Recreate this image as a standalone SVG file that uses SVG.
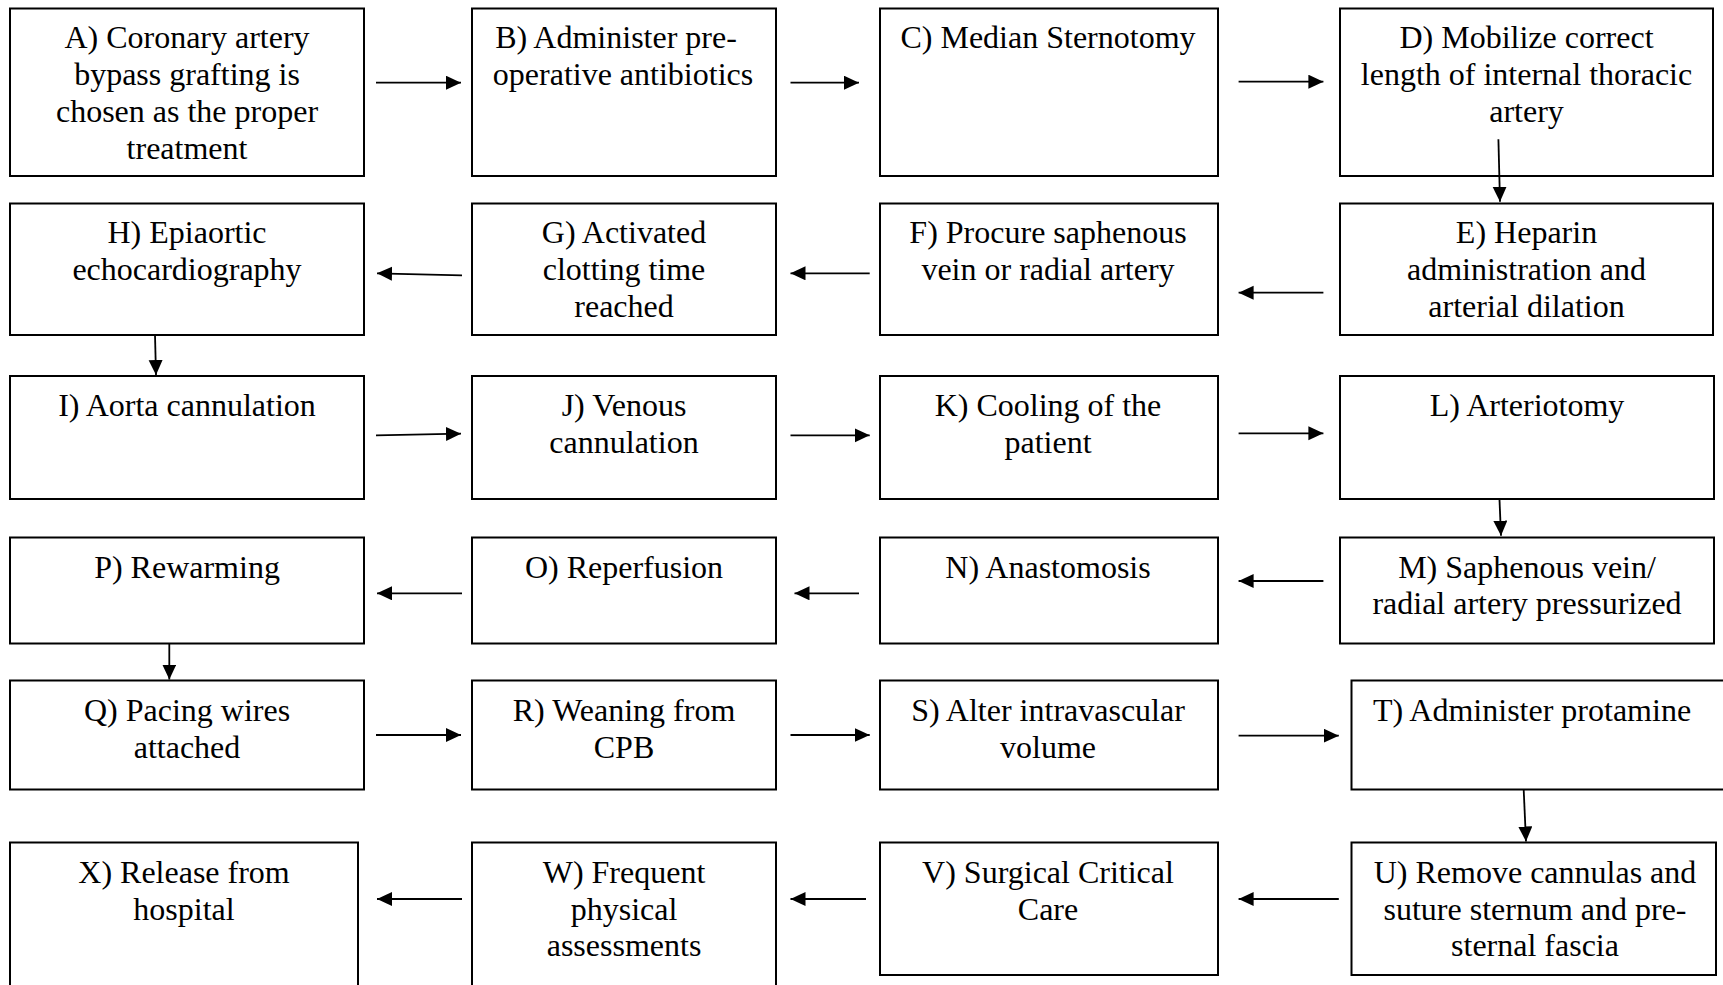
<svg xmlns="http://www.w3.org/2000/svg" width="1723" height="985" viewBox="0 0 1723 985">
<style>
.box{fill:#fff;stroke:#000;stroke-width:2}
.t{font-family:"Liberation Serif","Times New Roman",serif;font-size:32px;fill:#000;text-anchor:middle}
.c{stroke:#000;stroke-width:1.8;fill:none;marker-end:url(#ah)}
</style>
<defs>
<marker id="ah" markerUnits="userSpaceOnUse" markerWidth="16" markerHeight="15" refX="15" refY="7" orient="auto">
<path d="M0,0 L15,7 L0,14 z" fill="#000"/>
</marker>
</defs>
<rect width="1723" height="985" fill="#fff"/>
<g id="nodeA"><rect class="box" x="10" y="8.5" width="354" height="167.5"/><text class="t" x="187" y="48.3">A) Coronary artery<tspan x="187" dy="36.8">bypass grafting is</tspan><tspan x="187" dy="36.8">chosen as the proper</tspan><tspan x="187" dy="36.8">treatment</tspan></text></g>
<g id="nodeB"><rect class="box" x="472" y="8.5" width="304" height="167.5"/><text class="t" x="616" y="48.3">B) Administer pre-<tspan x="623" dy="36.8">operative antibiotics</tspan></text></g>
<g id="nodeC"><rect class="box" x="880" y="8.5" width="338" height="167.5"/><text class="t" x="1048" y="48.3">C) Median Sternotomy</text></g>
<g id="nodeD"><rect class="box" x="1340" y="8.5" width="373" height="167.5"/><text class="t" x="1526.5" y="48.3">D) Mobilize correct<tspan x="1526.5" dy="36.8">length of internal thoracic</tspan><tspan x="1526.5" dy="36.8">artery</tspan></text></g>
<g id="nodeE"><rect class="box" x="1340" y="203.5" width="373" height="131.5"/><text class="t" x="1526.5" y="243.3">E) Heparin<tspan x="1526.5" dy="36.8">administration and</tspan><tspan x="1526.5" dy="36.8">arterial dilation</tspan></text></g>
<g id="nodeF"><rect class="box" x="880" y="203.5" width="338" height="131.5"/><text class="t" x="1048" y="243.3">F) Procure saphenous<tspan x="1048" dy="36.8">vein or radial artery</tspan></text></g>
<g id="nodeG"><rect class="box" x="472" y="203.5" width="304" height="131.5"/><text class="t" x="624" y="243.3">G) Activated<tspan x="624" dy="36.8">clotting time</tspan><tspan x="624" dy="36.8">reached</tspan></text></g>
<g id="nodeH"><rect class="box" x="10" y="203.5" width="354" height="131.5"/><text class="t" x="187" y="243.3">H) Epiaortic<tspan x="187" dy="36.8">echocardiography</tspan></text></g>
<g id="nodeI"><rect class="box" x="10" y="376" width="354" height="123"/><text class="t" x="187" y="416.3">I) Aorta cannulation</text></g>
<g id="nodeJ"><rect class="box" x="472" y="376" width="304" height="123"/><text class="t" x="624" y="416.3">J) Venous<tspan x="624" dy="36.8">cannulation</tspan></text></g>
<g id="nodeK"><rect class="box" x="880" y="376" width="338" height="123"/><text class="t" x="1048" y="416.3">K) Cooling of the<tspan x="1048" dy="36.8">patient</tspan></text></g>
<g id="nodeL"><rect class="box" x="1340" y="376" width="374" height="123"/><text class="t" x="1527" y="416.3">L) Arteriotomy</text></g>
<g id="nodeM"><rect class="box" x="1340" y="537.5" width="374" height="106"/><text class="t" x="1527" y="577.5">M) Saphenous vein/<tspan x="1527" dy="36.8">radial artery pressurized</tspan></text></g>
<g id="nodeN"><rect class="box" x="880" y="537.5" width="338" height="106"/><text class="t" x="1048" y="577.5">N) Anastomosis</text></g>
<g id="nodeO"><rect class="box" x="472" y="537.5" width="304" height="106"/><text class="t" x="624" y="577.5">O) Reperfusion</text></g>
<g id="nodeP"><rect class="box" x="10" y="537.5" width="354" height="106"/><text class="t" x="187" y="577.5">P) Rewarming</text></g>
<g id="nodeQ"><rect class="box" x="10" y="680.5" width="354" height="109"/><text class="t" x="187" y="720.8">Q) Pacing wires<tspan x="187" dy="36.8">attached</tspan></text></g>
<g id="nodeR"><rect class="box" x="472" y="680.5" width="304" height="109"/><text class="t" x="624" y="720.8">R) Weaning from<tspan x="624" dy="36.8">CPB</tspan></text></g>
<g id="nodeS"><rect class="box" x="880" y="680.5" width="338" height="109"/><text class="t" x="1048" y="720.8">S) Alter intravascular<tspan x="1048" dy="36.8">volume</tspan></text></g>
<g id="nodeT"><rect class="box" x="1351.5" y="680.5" width="380" height="109"/><text class="t" x="1532" y="720.8">T) Administer protamine</text></g>
<g id="nodeU"><rect class="box" x="1351.5" y="842.5" width="364.5" height="132.5"/><text class="t" x="1535" y="882.8">U) Remove cannulas and<tspan x="1535" dy="36.8">suture sternum and pre-</tspan><tspan x="1535" dy="36.8">sternal fascia</tspan></text></g>
<g id="nodeV"><rect class="box" x="880" y="842.5" width="338" height="132.5"/><text class="t" x="1048" y="882.8">V) Surgical Critical<tspan x="1048" dy="36.8">Care</tspan></text></g>
<g id="nodeW"><rect class="box" x="472" y="842.5" width="304" height="150"/><text class="t" x="624" y="882.8">W) Frequent<tspan x="624" dy="36.8">physical</tspan><tspan x="624" dy="36.8">assessments</tspan></text></g>
<g id="nodeX"><rect class="box" x="10" y="842.5" width="348" height="150"/><text class="t" x="184" y="882.8">X) Release from<tspan x="184" dy="36.8">hospital</tspan></text></g>
<g id="connectors">
<line class="c" x1="376" y1="82.7" x2="461" y2="82.7"/>
<line class="c" x1="790.5" y1="82.7" x2="859" y2="82.7"/>
<line class="c" x1="1238.6" y1="81.7" x2="1323.4" y2="81.7"/>
<line class="c" x1="1498.4" y1="139.3" x2="1500" y2="201.7"/>
<line class="c" x1="1323.4" y1="292.7" x2="1238.6" y2="292.7"/>
<line class="c" x1="869.7" y1="273.3" x2="790.5" y2="273.3"/>
<line class="c" x1="462" y1="275.3" x2="377" y2="273.3"/>
<line class="c" x1="155" y1="335" x2="156" y2="375"/>
<line class="c" x1="376" y1="435.3" x2="461" y2="433.7"/>
<line class="c" x1="790.5" y1="435.3" x2="869.7" y2="435.3"/>
<line class="c" x1="1238.6" y1="433.3" x2="1323.4" y2="433.3"/>
<line class="c" x1="1499.5" y1="499.7" x2="1501" y2="535.7"/>
<line class="c" x1="1323.4" y1="581" x2="1238.6" y2="581"/>
<line class="c" x1="859" y1="593.3" x2="794.5" y2="593.3"/>
<line class="c" x1="462" y1="593.3" x2="377" y2="593.3"/>
<line class="c" x1="169.3" y1="643.3" x2="169.3" y2="679.5"/>
<line class="c" x1="376" y1="735" x2="461" y2="735"/>
<line class="c" x1="790.5" y1="735" x2="869.7" y2="735"/>
<line class="c" x1="1238.6" y1="735.7" x2="1338.8" y2="735.7"/>
<line class="c" x1="1523.7" y1="790" x2="1526" y2="841.5"/>
<line class="c" x1="1338.8" y1="899" x2="1238.6" y2="899"/>
<line class="c" x1="866" y1="899" x2="790.5" y2="899"/>
<line class="c" x1="462" y1="899" x2="377" y2="899"/>
</g>
</svg>
